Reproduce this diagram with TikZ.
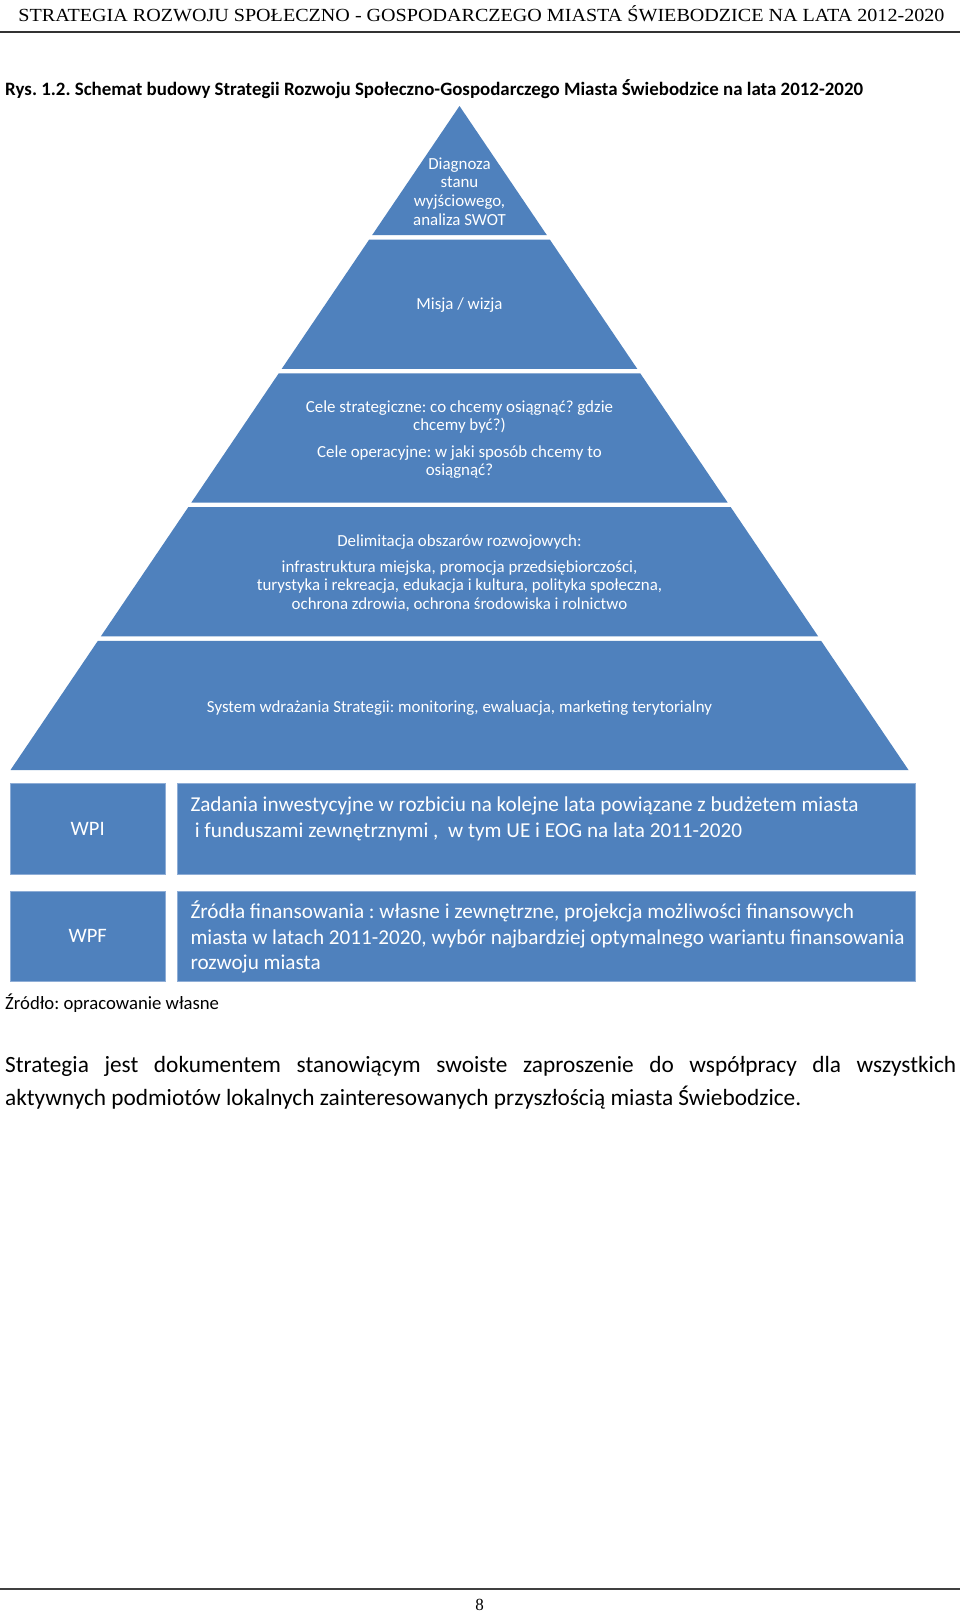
\documentclass[tikz,border=0pt]{standalone}
\usepackage{fontspec}
\setmainfont{Carlito}
\newfontfamily\serifhead{Liberation Serif}
\definecolor{pblue}{HTML}{4F81BD}
\definecolor{pedge}{HTML}{8EADD6}
\begin{document}
\frenchspacing
\begin{tikzpicture}[x=1pt,y=-1pt,
  band/.style={fill=pblue, draw=none},
  btext/.style={text=white, align=center, inner sep=0pt, font=\fontsize{16.9}{18.6}\selectfont},
  lbox/.style={fill=pblue, draw=pedge, line width=0.8pt, minimum width=154.7pt, minimum height=90.8pt, inner sep=0pt, text=white, font=\fontsize{20.5}{24}\selectfont},
  rbox/.style={fill=pblue, draw=pedge, line width=0.8pt, minimum width=738.2pt, minimum height=90.8pt, inner sep=0pt},
  rtext/.style={text=white, align=left, inner sep=0pt, anchor=west, font=\fontsize{21.2}{25.8}\selectfont},
  plain/.style={inner sep=0pt, text=black}
]
\fill[white] (0,0) rectangle (960,1617);
\useasboundingbox (0,0) rectangle (960,1617);

% header
\node[plain, anchor=center] (head) at (481.5,14) {\resizebox{926pt}{\height}{\serifhead\fontsize{18.5}{20}\selectfont STRATEGIA ROZWOJU SPOŁECZNO - GOSPODARCZEGO MIASTA ŚWIEBODZICE NA LATA 2012-2020}};
\coordinate (hl) at (0,32);
\coordinate (hr) at (960,32);
\draw[line width=2pt, black!80] (hl) -- (hr);

% caption
\node[plain, anchor=west] (cap) at (5,89.5) {\fontsize{18.9}{22}\selectfont\bfseries Rys. 1.2. Schemat budowy Strategii Rozwoju Społeczno-Gospodarczego Miasta Świebodzice na lata 2012-2020};

% pyramid bands
\fill[band] (459.5,106) -- (546.9,235.2) -- (372.1,235.2) -- cycle;
\fill[band] (369.1,239.7) -- (549.9,239.7) -- (637.3,368.9) -- (281.7,368.9) -- cycle;
\fill[band] (278.7,373.4) -- (640.3,373.4) -- (727.7,502.6) -- (191.3,502.6) -- cycle;
\fill[band] (188.3,507.1) -- (730.7,507.1) -- (818.1,636.3) -- (100.9,636.3) -- cycle;
\fill[band] (97.9,640.8) -- (821.1,640.8) -- (908.5,770) -- (10.5,770) -- cycle;

\node[btext] (diag) at (459.5,191.5) {Diagnoza\\stanu\\wyjściowego,\\analiza SWOT};
\node[btext] (misja) at (459.5,305.5) {Misja / wizja};
\node[btext] (cele) at (459.5,439.5) {Cele strategiczne: co chcemy osiągnąć? gdzie\\chcemy być?)\\[8pt]Cele operacyjne: w jaki sposób chcemy to\\osiągnąć?};
\node[btext] (delim) at (459.5,573) {Delimitacja obszarów rozwojowych:\\[7.5pt]infrastruktura miejska, promocja przedsiębiorczości,\\turystyka i rekreacja, edukacja i kultura, polityka społeczna,\\ochrona zdrowia, ochrona środowiska i rolnictwo};
\node[btext] (sys) at (459.5,708) {System wdrażania Strategii: monitoring, ewaluacja, marketing terytorialny};

% boxes
\node[lbox] (wpi) at (87.7,829) {WPI};
\node[rbox] (wpib) at (546.5,829) {};
\node[rtext] (wpit) at ([xshift=13.3pt,yshift=10.5pt]wpib.west) {Zadania inwestycyjne w rozbiciu na kolejne lata powiązane z budżetem miasta\\\hspace*{4.3pt}i funduszami zewnętrznymi ,\ \ w tym UE i EOG na lata 2011-2020};

\node[lbox] (wpf) at (87.7,936.3) {WPF};
\node[rbox] (wpfb) at (546.5,936.3) {};
\node[rtext] (wpft) at ([xshift=13.3pt,yshift=-0.8pt]wpfb.west) {Źródła finansowania : własne i zewnętrzne, projekcja możliwości finansowych\\miasta w latach 2011-2020, wybór najbardziej optymalnego wariantu finansowania\\rozwoju miasta};

\node[plain, anchor=west] (src) at (5,1003) {\fontsize{18.7}{22}\selectfont Źródło: opracowanie własne};

% paragraph
\node[plain, anchor=west] (p1) at (5,1066) {\fontsize{23.3}{32}\selectfont\makebox[951pt][s]{Strategia jest dokumentem stanowiącym swoiste zaproszenie do współpracy dla wszystkich}};
\node[plain, anchor=west] (p2) at (5,1097.5) {\fontsize{23.3}{32}\selectfont aktywnych podmiotów lokalnych zainteresowanych przyszłością miasta Świebodzice.};

% footer
\coordinate (fl) at (0,1589);
\coordinate (fr) at (960,1589);
\draw[line width=2pt, black!75] (fl) -- (fr);
\node[plain] (pg) at (479.5,1605) {\serifhead\fontsize{17}{18}\selectfont 8};
\end{tikzpicture}
\end{document}
